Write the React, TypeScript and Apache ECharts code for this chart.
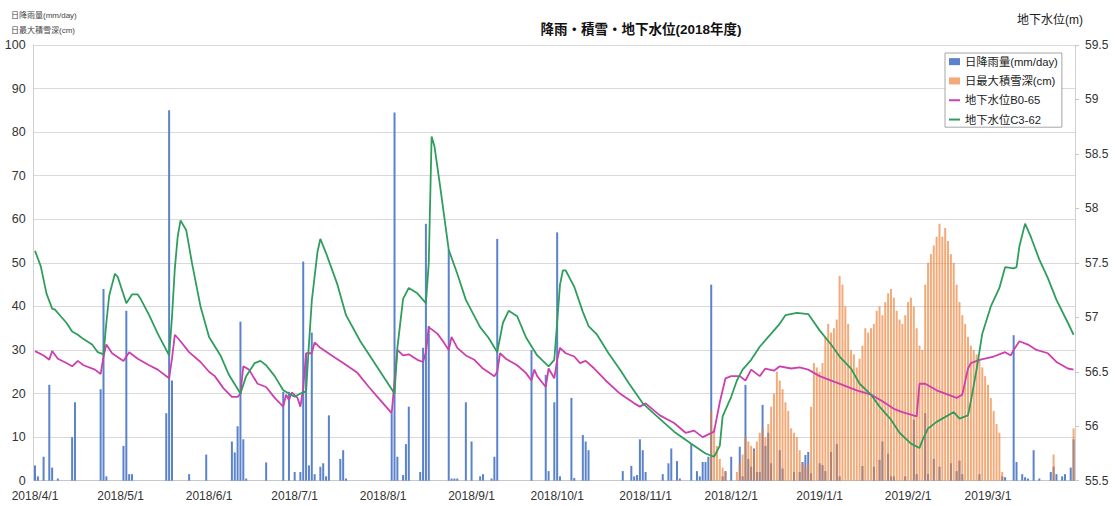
import React, { useEffect, useRef } from "react";
import * as echarts from "echarts";

// ---- categories: every day of fiscal 2018 ----
const START_UTC = Date.UTC(2018, 3, 1);
const DAY_COUNT = 365;
const dayLabels: string[] = [];
for (let i = 0; i < DAY_COUNT; i++) {
  const d = new Date(START_UTC + i * 86400000);
  dayLabels.push(`${d.getUTCFullYear()}/${d.getUTCMonth() + 1}/${d.getUTCDate()}`);
}

// ---- daily rainfall (mm/day): [day index from 2018/4/1, value] ----
const rainfall: [number, number][] = [
  [0, 3.5], [1, 1], [3, 5.5], [5, 22], [6, 3], [8, 0.5], [13, 10], [14, 18], [23, 21], [24, 44], [25, 1],
  [31, 8], [32, 39], [33, 1.5], [34, 1.5], [46, 15.5], [47, 85], [48, 23], [54, 1.5], [60, 6],
  [69, 9], [70, 6.5], [71, 12.5], [72, 36.5], [73, 9.5], [74, 0.5], [81, 4.2], [87, 20.4], [89, 20.4],
  [91, 2], [93, 2], [94, 50.3], [95, 29], [96, 3.5], [97, 34], [98, 1.5], [100, 3.2], [101, 4], [102, 1],
  [103, 15], [107, 5], [108, 7], [109, 0.5], [125, 15.5], [126, 84.5], [127, 5.5], [129, 1.3], [130, 8.4],
  [131, 17], [135, 2], [136, 30.5], [137, 59], [138, 35.5], [145, 53], [146, 0.5], [147, 0.5], [148, 0.5],
  [151, 18], [153, 9], [156, 1], [157, 1.5], [160, 0.5], [161, 5.5], [162, 55.5], [174, 30], [179, 24.3],
  [180, 2.2], [182, 18], [183, 57], [184, 1], [188, 19], [189, 0.6], [192, 10.5], [193, 9], [194, 7],
  [206, 2.2], [209, 3.4], [210, 1], [211, 1.3], [212, 9.5], [213, 7], [214, 2], [220, 1.5], [222, 4],
  [223, 7.4], [225, 4.5], [226, 0.5], [230, 8.4], [232, 2.2], [233, 1], [234, 4.3], [235, 4.3], [236, 5.5],
  [237, 45], [241, 1], [242, 2.2], [244, 5.5], [247, 7.8], [248, 1], [249, 22], [250, 5], [251, 3.2],
  [252, 7.4], [253, 2], [254, 2], [255, 17.4], [256, 8], [257, 11], [258, 4], [261, 7], [262, 2.8],
  [266, 2], [268, 2], [269, 4.3], [270, 5.9], [271, 6.6], [272, 1.7], [275, 4], [276, 3.6], [277, 2.2],
  [279, 6.6], [281, 8.4], [282, 1], [290, 3.4], [294, 3.2], [296, 4.8], [297, 9], [299, 6.2], [300, 1],
  [301, 1], [305, 1], [308, 14], [309, 1.5], [312, 15.5], [313, 1.5], [315, 5], [317, 3.2], [321, 4],
  [323, 2.2], [324, 4.6], [325, 1.5], [331, 1.5], [339, 1], [340, 0.8], [343, 33.4], [344, 4.3],
  [346, 1.5], [347, 0.8], [348, 0.5], [350, 7], [352, 0.5], [356, 2], [357, 3.2], [358, 1.5], [360, 1],
  [361, 1.5], [363, 3], [364, 9.5],
];

// ---- daily max snow depth (cm), consecutive days starting at day 237 (2018/11/24) ----
const snowFirstDay = 237;
const snowDepth: number[] = [
  16, 12, 8, 5, 3, 2, 0, 0, 0, 2,
  4, 6, 10, 9, 8, 7, 9, 11, 12, 10,
  13, 17, 20, 25, 23, 21, 18, 16, 12, 11,
  10, 7, 4, 3, 4, 17, 27, 26, 25, 27,
  33, 36, 34, 35, 37, 47, 45, 40, 36, 30,
  29, 26, 28, 31, 35, 34, 35, 36, 39, 40,
  38, 41, 43, 44, 42, 39, 37, 36, 38, 41,
  42, 40, 35, 31, 30, 45, 50, 52, 54, 56,
  59, 56, 58, 55, 52, 50, 45, 41, 38, 36,
  33, 31, 30, 29, 28, 26, 24, 22, 19, 16,
  13, 11, 2,
];
const snowLate: [number, number][] = [[357, 6], [364, 12]];

// ---- groundwater level (m): [day index, value] ----
const levelB065: [number, number][] = [
  [0, 56.69], [3, 56.65], [5, 56.61], [6, 56.69], [8, 56.62], [11, 56.58], [13, 56.55], [15, 56.6],
  [17, 56.56], [21, 56.52], [23, 56.48], [24, 56.64], [25, 56.75], [27, 56.67], [31, 56.6], [33, 56.68],
  [36, 56.62], [40, 56.56], [43, 56.52], [47, 56.44], [48, 56.62], [49, 56.84], [51, 56.78], [54, 56.68],
  [58, 56.59], [61, 56.5], [63, 56.46], [66, 56.35], [69, 56.27], [71, 56.27], [72, 56.3], [73, 56.55],
  [75, 56.52], [78, 56.39], [81, 56.36], [84, 56.26], [87, 56.18], [88, 56.29], [89, 56.24], [90, 56.31],
  [92, 56.26], [93, 56.18], [94, 56.35], [95, 56.67], [97, 56.67], [98, 56.77], [100, 56.72], [104, 56.65],
  [108, 56.58], [113, 56.49], [117, 56.36], [121, 56.24], [125, 56.12], [127, 56.7], [129, 56.65],
  [131, 56.66], [134, 56.61], [136, 56.59], [137, 56.68], [138, 56.91], [141, 56.85], [143, 56.78],
  [145, 56.7], [146, 56.82], [148, 56.72], [151, 56.65], [154, 56.61], [157, 56.53], [161, 56.46],
  [162, 56.5], [163, 56.67], [165, 56.62], [169, 56.56], [172, 56.49], [174, 56.42], [175, 56.52],
  [176, 56.46], [179, 56.36], [180, 56.53], [182, 56.44], [183, 56.61], [184, 56.72], [186, 56.67],
  [189, 56.64], [191, 56.58], [193, 56.6], [196, 56.53], [200, 56.42], [205, 56.3], [210, 56.21],
  [212, 56.18], [214, 56.21], [219, 56.1], [224, 56.03], [228, 55.94], [231, 55.96], [234, 55.9],
  [238, 55.95], [240, 56.22], [242, 56.44], [244, 56.46], [247, 56.46], [249, 56.42], [251, 56.52],
  [254, 56.46], [256, 56.53], [259, 56.51], [261, 56.55], [265, 56.53], [268, 56.54], [271, 56.52],
  [275, 56.46], [280, 56.41], [283, 56.38], [288, 56.33], [293, 56.29], [297, 56.23], [301, 56.16],
  [304, 56.13], [309, 56.09], [310, 56.39], [312, 56.39], [316, 56.33], [320, 56.29], [323, 56.26],
  [325, 56.29], [327, 56.53], [328, 56.58], [331, 56.61], [336, 56.64], [340, 56.68], [342, 56.65],
  [343, 56.7], [345, 56.78], [348, 56.75], [351, 56.7], [355, 56.67], [358, 56.59], [362, 56.53],
  [364, 56.52],
];
const levelC362: [number, number][] = [
  [0, 57.61], [2, 57.47], [4, 57.22], [6, 57.08], [7, 57.07], [9, 57.01], [11, 56.95], [13, 56.87],
  [15, 56.84], [17, 56.8], [20, 56.75], [22, 56.68], [24, 56.66], [25, 56.95], [26, 57.2], [28, 57.4],
  [29, 57.37], [32, 57.13], [34, 57.21], [36, 57.21], [37, 57.17], [40, 57.02], [43, 56.85], [47, 56.65],
  [48, 57.0], [49, 57.45], [50, 57.74], [51, 57.89], [53, 57.8], [55, 57.5], [58, 57.1], [61, 56.82],
  [65, 56.65], [68, 56.47], [72, 56.3], [74, 56.46], [77, 56.58], [79, 56.6], [81, 56.56], [84, 56.46],
  [87, 56.33], [89, 56.3], [91, 56.27], [93, 56.3], [95, 56.32], [96, 56.75], [97, 57.15], [99, 57.6],
  [100, 57.72], [102, 57.59], [106, 57.3], [109, 57.02], [114, 56.78], [117, 56.66], [121, 56.5],
  [126, 56.3], [127, 56.72], [129, 57.17], [131, 57.27], [134, 57.22], [137, 57.13], [138, 57.5],
  [139, 58.66], [140, 58.57], [142, 58.2], [145, 57.62], [148, 57.4], [151, 57.16], [156, 56.91],
  [159, 56.81], [162, 56.68], [164, 56.95], [166, 57.06], [169, 57.01], [172, 56.82], [176, 56.65],
  [180, 56.55], [182, 56.61], [184, 57.3], [185, 57.43], [186, 57.43], [189, 57.28], [192, 57.05],
  [194, 56.92], [197, 56.84], [201, 56.67], [205, 56.52], [208, 56.4], [213, 56.21], [218, 56.09],
  [224, 55.95], [230, 55.84], [235, 55.75], [238, 55.72], [240, 55.82], [241, 56.09], [244, 56.27],
  [246, 56.42], [248, 56.52], [251, 56.61], [254, 56.73], [258, 56.85], [261, 56.94], [263, 57.02],
  [267, 57.04], [271, 57.03], [275, 56.88], [279, 56.75], [282, 56.64], [286, 56.53], [289, 56.39],
  [293, 56.29], [296, 56.18], [300, 56.06], [303, 55.94], [307, 55.84], [310, 55.8], [311, 55.87],
  [313, 55.98], [316, 56.04], [320, 56.1], [322, 56.13], [324, 56.07], [327, 56.1], [328, 56.23],
  [330, 56.52], [332, 56.85], [335, 57.1], [338, 57.27], [340, 57.46], [343, 57.45], [344, 57.46],
  [345, 57.65], [347, 57.86], [349, 57.74], [352, 57.53], [355, 57.36], [358, 57.16], [362, 56.95],
  [364, 56.84],
];

const seriesNames = ["日降雨量(mm/day)", "日最大積雪深(cm)", "地下水位B0-65", "地下水位C3-62"];
const FONT = "'Liberation Sans', 'Noto Sans CJK JP', sans-serif";

export default function App() {
  const ref = useRef<HTMLDivElement>(null);
  useEffect(() => {
    if (!ref.current) return;
    const chart = echarts.init(ref.current, undefined, { renderer: "svg" });
    const snowData: [number, number][] = snowDepth.map((v, i) => [snowFirstDay + i, v] as [number, number]);
    const option: any = {
      animation: false,
      backgroundColor: "#ffffff",
      textStyle: { fontFamily: FONT },
      grid: { left: 33.6, right: 40, top: 45, bottom: 25.3, containLabel: false, outerBoundsMode: "none" },
      legend: {
        orient: "vertical",
        left: 945,
        top: 53,
        backgroundColor: "#ffffff",
        borderColor: "#a6a6a6",
        borderWidth: 1,
        padding: [3, 4, 2, 3],
        itemGap: 8,
        itemWidth: 11,
        itemHeight: 7,
        textStyle: { fontSize: 11.3, color: "#222", fontFamily: FONT },
        data: [
          { name: seriesNames[0], icon: "rect" },
          { name: seriesNames[1], icon: "rect" },
          { name: seriesNames[2], itemStyle: { opacity: 0 } },
          { name: seriesNames[3], itemStyle: { opacity: 0 } },
        ],
      },
      xAxis: {
        type: "category",
        data: dayLabels,
        boundaryGap: true,
        axisTick: { show: false },
        axisLine: { lineStyle: { color: "#c8c8c8" } },
        axisLabel: {
          interval: (_i: number, v: string) => v.split("/")[2] === "1",
          fontSize: 12,
          color: "#333",
          margin: 9,
          hideOverlap: false,
        },
        splitLine: { show: false },
      },
      yAxis: [
        {
          type: "value",
          min: 0,
          max: 100,
          interval: 10,
          axisLine: { show: true, lineStyle: { color: "#d0d0d0" } },
          axisTick: { show: false },
          splitLine: { lineStyle: { color: "#d9d9d9", width: 1 } },
          axisLabel: { fontSize: 12.5, color: "#333", margin: 8 },
        },
        {
          type: "value",
          position: "right",
          min: 55.5,
          max: 59.5,
          interval: 0.5,
          axisLine: { show: true, lineStyle: { color: "#d0d0d0" } },
          axisTick: { show: true, length: 4, lineStyle: { color: "#c8c8c8" } },
          splitLine: { show: false },
          axisLabel: { fontSize: 12, color: "#333", margin: 10 },
        },
      ],
      graphic: [
        {
          type: "text",
          x: 641,
          y: 29,
          style: {
            text: "降雨・積雪・地下水位(2018年度)",
            fontSize: 13.5,
            fontWeight: "bold",
            fontFamily: FONT,
            fill: "#111",
            align: "center",
            verticalAlign: "middle",
          },
        },
        {
          type: "text",
          x: 11,
          y: 15,
          style: { text: "日降雨量(mm/day)", fontSize: 8, fontFamily: FONT, fill: "#444", align: "left", verticalAlign: "middle" },
        },
        {
          type: "text",
          x: 11,
          y: 30,
          style: { text: "日最大積雪深(cm)", fontSize: 8, fontFamily: FONT, fill: "#444", align: "left", verticalAlign: "middle" },
        },
        {
          type: "text",
          x: 1017,
          y: 20,
          style: { text: "地下水位(m)", fontSize: 12, fontFamily: FONT, fill: "#222", align: "left", verticalAlign: "middle" },
        },
      ],
      series: [
        {
          name: seriesNames[0],
          type: "bar",
          yAxisIndex: 0,
          data: rainfall,
          barWidth: 2,
          barGap: "-100%",
          itemStyle: { color: "#5a83cb" },
          z: 2,
        },
        {
          name: seriesNames[1],
          type: "bar",
          yAxisIndex: 0,
          data: [...snowData, ...snowLate],
          barWidth: 2,
          barGap: "-100%",
          itemStyle: { color: "#ed7d31", opacity: 0.65 },
          z: 3,
        },
        {
          name: seriesNames[2],
          type: "line",
          yAxisIndex: 1,
          data: levelB065,
          symbol: "none",
          lineStyle: { color: "#cc3fae", width: 1.8 },
          itemStyle: { color: "#cc3fae" },
          z: 4,
        },
        {
          name: seriesNames[3],
          type: "line",
          yAxisIndex: 1,
          data: levelC362,
          symbol: "none",
          lineStyle: { color: "#2f9e5c", width: 1.8 },
          itemStyle: { color: "#2f9e5c" },
          z: 5,
        },
      ],
    };
    chart.setOption(option);
    return () => chart.dispose();
  }, []);
  return (
    <div
      ref={ref}
      style={{ position: "fixed", left: 0, top: 0, width: 1115, height: 506, background: "#fff" }}
    />
  );
}
